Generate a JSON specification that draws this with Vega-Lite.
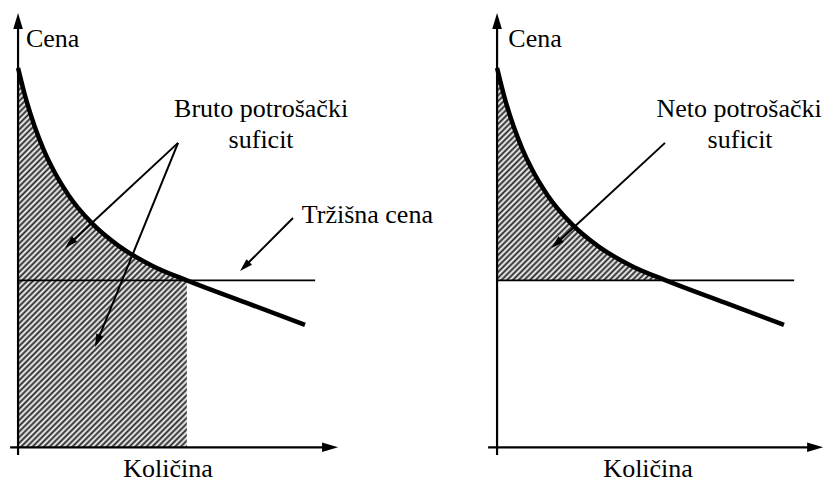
{
 "$schema": "https://vega.github.io/schema/vega-lite/v6.json",
 "padding": 0,
 "bounds": "flush",
 "spacing": 133,
 "config": {"view": {"stroke": null}, "font": "Liberation Serif, Times New Roman, DejaVu Serif, serif"},
 "datasets": {
  "demand": [
   {"q": 0, "p": 22.73},
   {"q": 0.5, "p": 20.75},
   {"q": 1, "p": 19.17},
   {"q": 1.5, "p": 17.87},
   {"q": 2, "p": 16.79},
   {"q": 3, "p": 15.09},
   {"q": 4.37, "p": 13.43},
   {"q": 6, "p": 12.04},
   {"q": 8, "p": 10.85},
   {"q": 10, "p": 10},
   {"q": 13.5, "p": 8.665},
   {"q": 17.0, "p": 7.33}
  ]
 },
 "hconcat": [
  {
   "width": 346, "height": 484,
   "encoding": {
    "x": {"field": "q", "type": "quantitative", "scale": {"domain": [-1.07, 19.43], "nice": false, "zero": false}, "axis": null},
    "y": {"field": "p", "type": "quantitative", "scale": {"domain": [-2.2, 26.8], "nice": false, "zero": false}, "axis": null}
   },
   "layer": [
    {"data": {"name": "demand"}, "transform": [{"filter": "datum.q <= 10"}],
     "mark": {"type": "area", "interpolate": "monotone", "opacity": 1, "fill": {"gradient": "linear", "x1": 0, "y1": 0, "x2": 0.558, "y2": 1.2542, "stops": [
{"offset":0,"color":"#222"},{"offset":0.005,"color":"#fff"},{"offset":0.01,"color":"#222"},{"offset":0.015,"color":"#fff"},{"offset":0.02,"color":"#222"},{"offset":0.025,"color":"#fff"},{"offset":0.03,"color":"#222"},{"offset":0.035,"color":"#fff"},{"offset":0.04,"color":"#222"},{"offset":0.045,"color":"#fff"},
{"offset":0.05,"color":"#222"},{"offset":0.055,"color":"#fff"},{"offset":0.06,"color":"#222"},{"offset":0.065,"color":"#fff"},{"offset":0.07,"color":"#222"},{"offset":0.075,"color":"#fff"},{"offset":0.08,"color":"#222"},{"offset":0.085,"color":"#fff"},{"offset":0.09,"color":"#222"},{"offset":0.095,"color":"#fff"},
{"offset":0.1,"color":"#222"},{"offset":0.105,"color":"#fff"},{"offset":0.11,"color":"#222"},{"offset":0.115,"color":"#fff"},{"offset":0.12,"color":"#222"},{"offset":0.125,"color":"#fff"},{"offset":0.13,"color":"#222"},{"offset":0.135,"color":"#fff"},{"offset":0.14,"color":"#222"},{"offset":0.145,"color":"#fff"},
{"offset":0.15,"color":"#222"},{"offset":0.155,"color":"#fff"},{"offset":0.16,"color":"#222"},{"offset":0.165,"color":"#fff"},{"offset":0.17,"color":"#222"},{"offset":0.175,"color":"#fff"},{"offset":0.18,"color":"#222"},{"offset":0.185,"color":"#fff"},{"offset":0.19,"color":"#222"},{"offset":0.195,"color":"#fff"},
{"offset":0.2,"color":"#222"},{"offset":0.205,"color":"#fff"},{"offset":0.21,"color":"#222"},{"offset":0.215,"color":"#fff"},{"offset":0.22,"color":"#222"},{"offset":0.225,"color":"#fff"},{"offset":0.23,"color":"#222"},{"offset":0.235,"color":"#fff"},{"offset":0.24,"color":"#222"},{"offset":0.245,"color":"#fff"},
{"offset":0.25,"color":"#222"},{"offset":0.255,"color":"#fff"},{"offset":0.26,"color":"#222"},{"offset":0.265,"color":"#fff"},{"offset":0.27,"color":"#222"},{"offset":0.275,"color":"#fff"},{"offset":0.28,"color":"#222"},{"offset":0.285,"color":"#fff"},{"offset":0.29,"color":"#222"},{"offset":0.295,"color":"#fff"},
{"offset":0.3,"color":"#222"},{"offset":0.305,"color":"#fff"},{"offset":0.31,"color":"#222"},{"offset":0.315,"color":"#fff"},{"offset":0.32,"color":"#222"},{"offset":0.325,"color":"#fff"},{"offset":0.33,"color":"#222"},{"offset":0.335,"color":"#fff"},{"offset":0.34,"color":"#222"},{"offset":0.345,"color":"#fff"},
{"offset":0.35,"color":"#222"},{"offset":0.355,"color":"#fff"},{"offset":0.36,"color":"#222"},{"offset":0.365,"color":"#fff"},{"offset":0.37,"color":"#222"},{"offset":0.375,"color":"#fff"},{"offset":0.38,"color":"#222"},{"offset":0.385,"color":"#fff"},{"offset":0.39,"color":"#222"},{"offset":0.395,"color":"#fff"},
{"offset":0.4,"color":"#222"},{"offset":0.405,"color":"#fff"},{"offset":0.41,"color":"#222"},{"offset":0.415,"color":"#fff"},{"offset":0.42,"color":"#222"},{"offset":0.425,"color":"#fff"},{"offset":0.43,"color":"#222"},{"offset":0.435,"color":"#fff"},{"offset":0.44,"color":"#222"},{"offset":0.445,"color":"#fff"},
{"offset":0.45,"color":"#222"},{"offset":0.455,"color":"#fff"},{"offset":0.46,"color":"#222"},{"offset":0.465,"color":"#fff"},{"offset":0.47,"color":"#222"},{"offset":0.475,"color":"#fff"},{"offset":0.48,"color":"#222"},{"offset":0.485,"color":"#fff"},{"offset":0.49,"color":"#222"},{"offset":0.495,"color":"#fff"},
{"offset":0.5,"color":"#222"},{"offset":0.505,"color":"#fff"},{"offset":0.51,"color":"#222"},{"offset":0.515,"color":"#fff"},{"offset":0.52,"color":"#222"},{"offset":0.525,"color":"#fff"},{"offset":0.53,"color":"#222"},{"offset":0.535,"color":"#fff"},{"offset":0.54,"color":"#222"},{"offset":0.545,"color":"#fff"},
{"offset":0.55,"color":"#222"},{"offset":0.555,"color":"#fff"},{"offset":0.56,"color":"#222"},{"offset":0.565,"color":"#fff"},{"offset":0.57,"color":"#222"},{"offset":0.575,"color":"#fff"},{"offset":0.58,"color":"#222"},{"offset":0.585,"color":"#fff"},{"offset":0.59,"color":"#222"},{"offset":0.595,"color":"#fff"},
{"offset":0.6,"color":"#222"},{"offset":0.605,"color":"#fff"},{"offset":0.61,"color":"#222"},{"offset":0.615,"color":"#fff"},{"offset":0.62,"color":"#222"},{"offset":0.625,"color":"#fff"},{"offset":0.63,"color":"#222"},{"offset":0.635,"color":"#fff"},{"offset":0.64,"color":"#222"},{"offset":0.645,"color":"#fff"},
{"offset":0.65,"color":"#222"},{"offset":0.655,"color":"#fff"},{"offset":0.66,"color":"#222"},{"offset":0.665,"color":"#fff"},{"offset":0.67,"color":"#222"},{"offset":0.675,"color":"#fff"},{"offset":0.68,"color":"#222"},{"offset":0.685,"color":"#fff"},{"offset":0.69,"color":"#222"},{"offset":0.695,"color":"#fff"},
{"offset":0.7,"color":"#222"},{"offset":0.705,"color":"#fff"},{"offset":0.71,"color":"#222"},{"offset":0.715,"color":"#fff"},{"offset":0.72,"color":"#222"},{"offset":0.725,"color":"#fff"},{"offset":0.73,"color":"#222"},{"offset":0.735,"color":"#fff"},{"offset":0.74,"color":"#222"},{"offset":0.745,"color":"#fff"},
{"offset":0.75,"color":"#222"},{"offset":0.755,"color":"#fff"},{"offset":0.76,"color":"#222"},{"offset":0.765,"color":"#fff"},{"offset":0.77,"color":"#222"},{"offset":0.775,"color":"#fff"},{"offset":0.78,"color":"#222"},{"offset":0.785,"color":"#fff"},{"offset":0.79,"color":"#222"},{"offset":0.795,"color":"#fff"},
{"offset":0.8,"color":"#222"},{"offset":0.805,"color":"#fff"},{"offset":0.81,"color":"#222"},{"offset":0.815,"color":"#fff"},{"offset":0.82,"color":"#222"},{"offset":0.825,"color":"#fff"},{"offset":0.83,"color":"#222"},{"offset":0.835,"color":"#fff"},{"offset":0.84,"color":"#222"},{"offset":0.845,"color":"#fff"},
{"offset":0.85,"color":"#222"},{"offset":0.855,"color":"#fff"},{"offset":0.86,"color":"#222"},{"offset":0.865,"color":"#fff"},{"offset":0.87,"color":"#222"},{"offset":0.875,"color":"#fff"},{"offset":0.88,"color":"#222"},{"offset":0.885,"color":"#fff"},{"offset":0.89,"color":"#222"},{"offset":0.895,"color":"#fff"},
{"offset":0.9,"color":"#222"},{"offset":0.905,"color":"#fff"},{"offset":0.91,"color":"#222"},{"offset":0.915,"color":"#fff"},{"offset":0.92,"color":"#222"},{"offset":0.925,"color":"#fff"},{"offset":0.93,"color":"#222"},{"offset":0.935,"color":"#fff"},{"offset":0.94,"color":"#222"},{"offset":0.945,"color":"#fff"},
{"offset":0.95,"color":"#222"},{"offset":0.955,"color":"#fff"},{"offset":0.96,"color":"#222"},{"offset":0.965,"color":"#fff"},{"offset":0.97,"color":"#222"},{"offset":0.975,"color":"#fff"},{"offset":0.98,"color":"#222"},{"offset":0.985,"color":"#fff"},{"offset":0.99,"color":"#222"},{"offset":0.995,"color":"#fff"},
{"offset":1,"color":"#222"}
     ]}},
     "encoding": {"y2": {"datum": 0}}},
    {"data": {"values": [{"q": -0.47, "p": 0, "q2": 18.46, "p2": 0}, {"q": 0, "p": -0.46, "q2": 0, "p2": 25.52}]},
     "mark": {"type": "rule", "color": "black", "strokeWidth": 2.2},
     "encoding": {"x2": {"field": "q2"}, "y2": {"field": "p2"}}},
    {"data": {"values": [{"q": 0, "p": 10, "q2": 17.6, "p2": 10}]},
     "mark": {"type": "rule", "color": "black", "strokeWidth": 1.8},
     "encoding": {"x2": {"field": "q2"}, "y2": {"field": "p2"}}},
    {"data": {"values": [{"q": 9.48, "p": 18.24, "q2": 3.0, "p2": 12.15}, {"q": 9.48, "p": 18.24, "q2": 4.67, "p2": 6.29}, {"q": 16.29, "p": 13.74, "q2": 13.36, "p2": 10.77}]},
     "mark": {"type": "rule", "color": "black", "strokeWidth": 2},
     "encoding": {"x2": {"field": "q2"}, "y2": {"field": "p2"}}},
    {"data": {"name": "demand"},
     "mark": {"type": "line", "interpolate": "monotone", "color": "black", "strokeWidth": 4.5}},
    {"data": {"values": [{"q": 18.96, "p": 0}]},
     "mark": {"type": "point", "shape": "M0,0 L-2,-0.6 L-2,0.6 Z", "filled": true, "color": "black", "opacity": 1, "size": 256, "angle": 0, "strokeWidth": 0}},
    {"data": {"values": [{"q": 0, "p": 26.02}]},
     "mark": {"type": "point", "shape": "M0,0 L-2,-0.6 L-2,0.6 Z", "filled": true, "color": "black", "opacity": 1, "size": 256, "angle": -90, "strokeWidth": 0}},
    {"data": {"values": [{"q": 2.785, "p": 11.95}]},
     "mark": {"type": "point", "shape": "M0,0 L-2,-0.6 L-2,0.6 Z", "filled": true, "color": "black", "opacity": 1, "size": 169, "angle": 137.1, "strokeWidth": 0}},
    {"data": {"values": [{"q": 4.56, "p": 6.01}]},
     "mark": {"type": "point", "shape": "M0,0 L-2,-0.6 L-2,0.6 Z", "filled": true, "color": "black", "opacity": 1, "size": 169, "angle": 112.1, "strokeWidth": 0}},
    {"data": {"values": [{"q": 13.15, "p": 10.56}]},
     "mark": {"type": "point", "shape": "M0,0 L-2,-0.6 L-2,0.6 Z", "filled": true, "color": "black", "opacity": 1, "size": 169, "angle": 135.5, "strokeWidth": 0}},
    {"data": {"values": [{"t": "Cena", "q": 0.47, "p": 23.98}, {"t": "Tržišna cena", "q": 16.81, "p": 13.42}]},
     "mark": {"type": "text", "align": "left", "baseline": "alphabetic", "font": "Liberation Serif, Times New Roman, DejaVu Serif, serif", "fontSize": 26, "color": "black"},
     "encoding": {"text": {"field": "t"}}},
    {"data": {"values": [{"t": "Bruto potrošački", "q": 14.4, "p": 19.79}, {"t": "suficit", "q": 14.4, "p": 17.96}, {"t": "Količina", "q": 8.89, "p": -1.78}]},
     "mark": {"type": "text", "align": "center", "baseline": "alphabetic", "font": "Liberation Serif, Times New Roman, DejaVu Serif, serif", "fontSize": 26, "color": "black"},
     "encoding": {"text": {"field": "t"}}}
   ]
  },
  {
   "width": 346, "height": 484,
   "encoding": {
    "x": {"field": "q", "type": "quantitative", "scale": {"domain": [-1.07, 19.43], "nice": false, "zero": false}, "axis": null},
    "y": {"field": "p", "type": "quantitative", "scale": {"domain": [-2.2, 26.8], "nice": false, "zero": false}, "axis": null}
   },
   "layer": [
    {"data": {"name": "demand"}, "transform": [{"filter": "datum.q <= 10"}],
     "mark": {"type": "area", "interpolate": "monotone", "opacity": 1, "fill": {"gradient": "linear", "x1": 0, "y1": 0, "x2": 1.3064, "y2": 1.6438, "stops": [
{"offset":0,"color":"#222"},{"offset":0.005,"color":"#fff"},{"offset":0.01,"color":"#222"},{"offset":0.015,"color":"#fff"},{"offset":0.02,"color":"#222"},{"offset":0.025,"color":"#fff"},{"offset":0.03,"color":"#222"},{"offset":0.035,"color":"#fff"},{"offset":0.04,"color":"#222"},{"offset":0.045,"color":"#fff"},
{"offset":0.05,"color":"#222"},{"offset":0.055,"color":"#fff"},{"offset":0.06,"color":"#222"},{"offset":0.065,"color":"#fff"},{"offset":0.07,"color":"#222"},{"offset":0.075,"color":"#fff"},{"offset":0.08,"color":"#222"},{"offset":0.085,"color":"#fff"},{"offset":0.09,"color":"#222"},{"offset":0.095,"color":"#fff"},
{"offset":0.1,"color":"#222"},{"offset":0.105,"color":"#fff"},{"offset":0.11,"color":"#222"},{"offset":0.115,"color":"#fff"},{"offset":0.12,"color":"#222"},{"offset":0.125,"color":"#fff"},{"offset":0.13,"color":"#222"},{"offset":0.135,"color":"#fff"},{"offset":0.14,"color":"#222"},{"offset":0.145,"color":"#fff"},
{"offset":0.15,"color":"#222"},{"offset":0.155,"color":"#fff"},{"offset":0.16,"color":"#222"},{"offset":0.165,"color":"#fff"},{"offset":0.17,"color":"#222"},{"offset":0.175,"color":"#fff"},{"offset":0.18,"color":"#222"},{"offset":0.185,"color":"#fff"},{"offset":0.19,"color":"#222"},{"offset":0.195,"color":"#fff"},
{"offset":0.2,"color":"#222"},{"offset":0.205,"color":"#fff"},{"offset":0.21,"color":"#222"},{"offset":0.215,"color":"#fff"},{"offset":0.22,"color":"#222"},{"offset":0.225,"color":"#fff"},{"offset":0.23,"color":"#222"},{"offset":0.235,"color":"#fff"},{"offset":0.24,"color":"#222"},{"offset":0.245,"color":"#fff"},
{"offset":0.25,"color":"#222"},{"offset":0.255,"color":"#fff"},{"offset":0.26,"color":"#222"},{"offset":0.265,"color":"#fff"},{"offset":0.27,"color":"#222"},{"offset":0.275,"color":"#fff"},{"offset":0.28,"color":"#222"},{"offset":0.285,"color":"#fff"},{"offset":0.29,"color":"#222"},{"offset":0.295,"color":"#fff"},
{"offset":0.3,"color":"#222"},{"offset":0.305,"color":"#fff"},{"offset":0.31,"color":"#222"},{"offset":0.315,"color":"#fff"},{"offset":0.32,"color":"#222"},{"offset":0.325,"color":"#fff"},{"offset":0.33,"color":"#222"},{"offset":0.335,"color":"#fff"},{"offset":0.34,"color":"#222"},{"offset":0.345,"color":"#fff"},
{"offset":0.35,"color":"#222"},{"offset":0.355,"color":"#fff"},{"offset":0.36,"color":"#222"},{"offset":0.365,"color":"#fff"},{"offset":0.37,"color":"#222"},{"offset":0.375,"color":"#fff"},{"offset":0.38,"color":"#222"},{"offset":0.385,"color":"#fff"},{"offset":0.39,"color":"#222"},{"offset":0.395,"color":"#fff"},
{"offset":0.4,"color":"#222"},{"offset":0.405,"color":"#fff"},{"offset":0.41,"color":"#222"},{"offset":0.415,"color":"#fff"},{"offset":0.42,"color":"#222"},{"offset":0.425,"color":"#fff"},{"offset":0.43,"color":"#222"},{"offset":0.435,"color":"#fff"},{"offset":0.44,"color":"#222"},{"offset":0.445,"color":"#fff"},
{"offset":0.45,"color":"#222"},{"offset":0.455,"color":"#fff"},{"offset":0.46,"color":"#222"},{"offset":0.465,"color":"#fff"},{"offset":0.47,"color":"#222"},{"offset":0.475,"color":"#fff"},{"offset":0.48,"color":"#222"},{"offset":0.485,"color":"#fff"},{"offset":0.49,"color":"#222"},{"offset":0.495,"color":"#fff"},
{"offset":0.5,"color":"#222"},{"offset":0.505,"color":"#fff"},{"offset":0.51,"color":"#222"},{"offset":0.515,"color":"#fff"},{"offset":0.52,"color":"#222"},{"offset":0.525,"color":"#fff"},{"offset":0.53,"color":"#222"},{"offset":0.535,"color":"#fff"},{"offset":0.54,"color":"#222"},{"offset":0.545,"color":"#fff"},
{"offset":0.55,"color":"#222"},{"offset":0.555,"color":"#fff"},{"offset":0.56,"color":"#222"},{"offset":0.565,"color":"#fff"},{"offset":0.57,"color":"#222"},{"offset":0.575,"color":"#fff"},{"offset":0.58,"color":"#222"},{"offset":0.585,"color":"#fff"},{"offset":0.59,"color":"#222"},{"offset":0.595,"color":"#fff"},
{"offset":0.6,"color":"#222"},{"offset":0.605,"color":"#fff"},{"offset":0.61,"color":"#222"},{"offset":0.615,"color":"#fff"},{"offset":0.62,"color":"#222"},{"offset":0.625,"color":"#fff"},{"offset":0.63,"color":"#222"},{"offset":0.635,"color":"#fff"},{"offset":0.64,"color":"#222"},{"offset":0.645,"color":"#fff"},
{"offset":0.65,"color":"#222"},{"offset":0.655,"color":"#fff"},{"offset":0.66,"color":"#222"},{"offset":0.665,"color":"#fff"},{"offset":0.67,"color":"#222"}
     ]}},
     "encoding": {"y2": {"datum": 10}}},
    {"data": {"values": [{"q": -0.53, "p": 0, "q2": 18.82, "p2": 0}, {"q": 0, "p": -0.46, "q2": 0, "p2": 25.52}]},
     "mark": {"type": "rule", "color": "black", "strokeWidth": 2.2},
     "encoding": {"x2": {"field": "q2"}, "y2": {"field": "p2"}}},
    {"data": {"values": [{"q": 0, "p": 10, "q2": 17.6, "p2": 10}]},
     "mark": {"type": "rule", "color": "black", "strokeWidth": 1.8},
     "encoding": {"x2": {"field": "q2"}, "y2": {"field": "p2"}}},
    {"data": {"values": [{"q": 9.95, "p": 18.24, "q2": 3.45, "p2": 12.15}]},
     "mark": {"type": "rule", "color": "black", "strokeWidth": 2},
     "encoding": {"x2": {"field": "q2"}, "y2": {"field": "p2"}}},
    {"data": {"name": "demand"},
     "mark": {"type": "line", "interpolate": "monotone", "color": "black", "strokeWidth": 4.5}},
    {"data": {"values": [{"q": 19.32, "p": 0}]},
     "mark": {"type": "point", "shape": "M0,0 L-2,-0.6 L-2,0.6 Z", "filled": true, "color": "black", "opacity": 1, "size": 256, "angle": 0, "strokeWidth": 0}},
    {"data": {"values": [{"q": 0, "p": 26.02}]},
     "mark": {"type": "point", "shape": "M0,0 L-2,-0.6 L-2,0.6 Z", "filled": true, "color": "black", "opacity": 1, "size": 256, "angle": -90, "strokeWidth": 0}},
    {"data": {"values": [{"q": 3.23, "p": 11.94}]},
     "mark": {"type": "point", "shape": "M0,0 L-2,-0.6 L-2,0.6 Z", "filled": true, "color": "black", "opacity": 1, "size": 169, "angle": 137.2, "strokeWidth": 0}},
    {"data": {"values": [{"t": "Cena", "q": 0.67, "p": 23.98}]},
     "mark": {"type": "text", "align": "left", "baseline": "alphabetic", "font": "Liberation Serif, Times New Roman, DejaVu Serif, serif", "fontSize": 26, "color": "black"},
     "encoding": {"text": {"field": "t"}}},
    {"data": {"values": [{"t": "Neto potrošački", "q": 14.34, "p": 19.79}, {"t": "suficit", "q": 14.4, "p": 17.96}, {"t": "Količina", "q": 8.95, "p": -1.78}]},
     "mark": {"type": "text", "align": "center", "baseline": "alphabetic", "font": "Liberation Serif, Times New Roman, DejaVu Serif, serif", "fontSize": 26, "color": "black"},
     "encoding": {"text": {"field": "t"}}}
   ]
  }
 ]
}
